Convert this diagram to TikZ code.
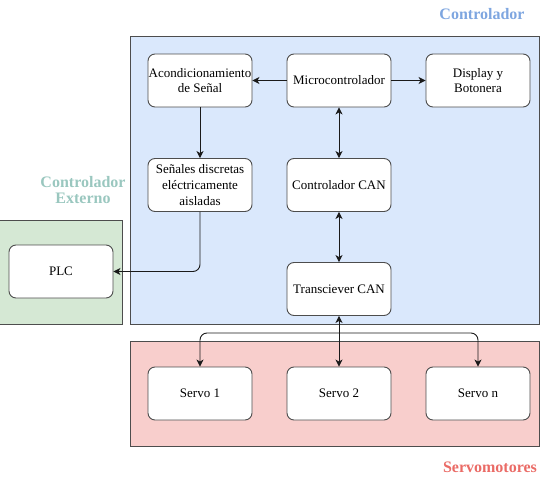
\documentclass[tikz,border=0pt]{standalone}
\usepackage{fontspec}
\setmainfont{Liberation Serif}
\usetikzlibrary{arrows.meta}
\definecolor{bluefill}{HTML}{DAE8FC}
\definecolor{greenfill}{HTML}{D5E8D4}
\definecolor{redfill}{HTML}{F8CECC}
\definecolor{framec}{HTML}{4D4D4D}
\definecolor{bluelab}{HTML}{7EA6E0}
\definecolor{greenlab}{HTML}{9AC7BF}
\definecolor{redlab}{HTML}{EA6B66}
\definecolor{linec}{HTML}{1A1A1A}
\tikzset{
  blockbox/.style={draw=framec, line width=0.9pt, fill=white, rounded corners=7pt,
    minimum width=104pt, minimum height=53pt, inner sep=0pt, align=center,
    font=\fontsize{13}{15.7}\selectfont},
  groupbox/.style={draw=framec, line width=0.9pt},
  grouplabel/.style={font=\fontsize{16}{17}\selectfont\bfseries, align=center},
  tipx/.tip={Stealth[length=7pt,width=7pt,inset=2pt]},
  conn/.style={draw=linec, line width=0.9pt, rounded corners=7pt, -tipx},
  conn2/.style={draw=linec, line width=0.9pt, tipx-tipx},
}
\begin{document}
\begin{tikzpicture}[x=1pt,y=-1pt]
\useasboundingbox (0,0) rectangle (558,479);
% containers
\path[groupbox, fill=bluefill] (130,36) rectangle (539,324);
\path[groupbox, fill=greenfill] (-1,220) rectangle (122,324);
\path[groupbox, fill=redfill] (130,341) rectangle (539,446);
\node[grouplabel, text=bluelab] (lctrl) at (482,14) {Controlador};
\node[grouplabel, text=greenlab] (lext) at (83,190) {Controlador\\[-1pt]Externo};
\node[grouplabel, text=redlab] (lservo) at (490,467) {Servomotores};
% blocks
\node[blockbox] (acond) at (200,80.5) {Acondicionamiento\\de Señal};
\node[blockbox] (micro) at (339,80.5) {Microcontrolador};
\node[blockbox] (disp) at (478,80.5) {Display y\\Botonera};
\node[blockbox] (sen) at (200,185) {Señales discretas\\eléctricamente\\aisladas};
\node[blockbox] (ccan) at (339,185) {Controlador CAN};
\node[blockbox] (tcan) at (339,289) {Transciever CAN};
\node[blockbox] (plc) at (61,271.5) {PLC};
\node[blockbox] (s1) at (200,393.5) {Servo 1};
\node[blockbox] (s2) at (339,393.5) {Servo 2};
\node[blockbox] (sn) at (478,393.5) {Servo n};
% connectors
\draw[conn] (micro) -- (acond);
\draw[conn] (micro) -- (disp);
\draw[conn2] (micro) -- (ccan);
\draw[conn] (acond) -- (sen);
\draw[conn] (sen.south) |- (plc.east);
\draw[conn2] (ccan) -- (tcan);
\draw[conn2] (tcan) -- (s2);
\coordinate (bus) at (339,333);
\draw[conn] (bus) -| (s1.north);
\draw[conn] (bus) -| (sn.north);
\end{tikzpicture}
\end{document}
